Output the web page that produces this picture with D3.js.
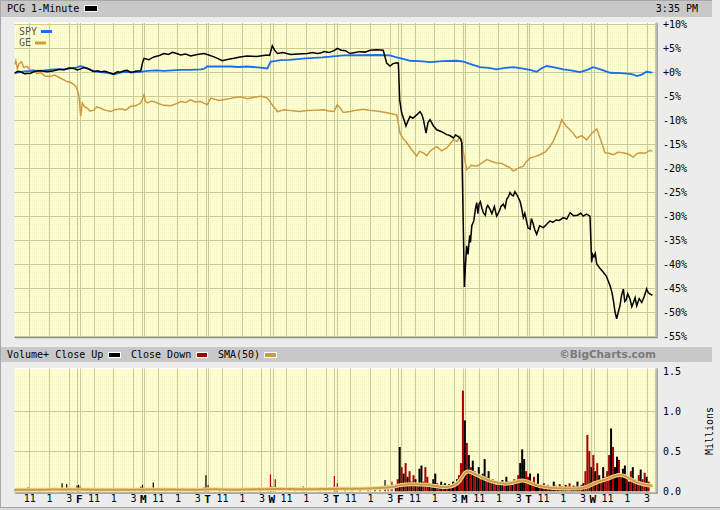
<!DOCTYPE html>
<html><head><meta charset="utf-8">
<script src="https://cdn.jsdelivr.net/npm/d3@7"></script>
<style>
html,body{margin:0;padding:0;background:#ececec;}
svg{display:block;}
text{font-family:"DejaVu Sans Mono",monospace;font-size:10px;fill:#000;}
</style></head><body>
<svg id="c" width="720" height="510"></svg>
<script>
// ---------- DATA ----------
// time axis: trading minutes since the first 9:30 open (390 minutes per session, 10 sessions)
const dayLabels = ["", "F", "M", "T", "W", "T", "F", "M", "T", "W"];
const hourTickMinutes = [90, 210, 330];
const hourLabels = ["11", "1", "3"];
const pctTicks = [10, 5, 0, -5, -10, -15, -20, -25, -30, -35, -40, -45, -50, -55];
const volTicks = [0, 0.5, 1.0, 1.5];

// [minute, % change]
const pcg = [[0,-0.2],[20,0.2],[38,0.1],[60,-0.3],[98,-0.2],[125,0.2],[159,0.3],[200,0.1],[240,0.3],[270,0.6],[301,0.5],[330,0.9],[361,0.8],[380,0.5],[402,0.7],[420,1.0],[442,0.8],[460,0.5],[483,0.1],[505,0.3],[524,0.1],[550,0.2],[584,-0.2],[600,-0.4],[625,0.1],[645,0.0],[665,0.3],[685,0.4],[706,-0.1],[735,0.2],[767,0.3],[777,1.9],[787,2.9],[815,2.6],[847,3.2],[880,3.5],[908,3.9],[935,3.7],[959,4.15],[985,3.9],[1010,3.6],[1040,3.8],[1070,3.4],[1110,3.7],[1151,3.9],[1180,3.6],[1212,3.2],[1240,2.8],[1262,2.4],[1300,2.7],[1333,2.9],[1370,3.2],[1414,3.4],[1470,3.3],[1536,3.6],[1550,3.5],[1566,5.5],[1580,4.6],[1597,3.9],[1630,4.1],[1678,3.7],[1720,3.8],[1779,3.9],[1810,4.1],[1839,3.9],[1860,4.0],[1880,4.3],[1910,4.1],[1941,4.5],[1961,5.0],[1985,4.6],[2010,4.5],[2038,3.9],[2070,4.1],[2099,4.3],[2130,4.2],[2160,4.6],[2200,4.7],[2240,4.6],[2261,1.9],[2281,1.3],[2300,1.8],[2322,2.0],[2332,1.9],[2340,-5.8],[2352,-8.5],[2365,-9.8],[2378,-11.2],[2390,-10.2],[2403,-9.2],[2420,-9.6],[2443,-8.9],[2463,-8.2],[2475,-8.8],[2484,-9.9],[2500,-12.7],[2512,-10.5],[2524,-9.9],[2545,-11.2],[2565,-12.0],[2595,-12.4],[2626,-13.0],[2645,-13.2],[2666,-13.7],[2680,-13.1],[2696,-13.4],[2710,-13.9],[2717,-14.7],[2733,-44.8],[2740,-40.0],[2747,-36.2],[2755,-38.0],[2765,-34.0],[2770,-35.5],[2778,-32.0],[2790,-31.0],[2800,-28.5],[2808,-27.2],[2815,-29.5],[2822,-27.5],[2830,-27.0],[2840,-28.4],[2848,-29.3],[2860,-29.8],[2868,-28.2],[2875,-27.8],[2889,-28.6],[2900,-29.5],[2915,-28.0],[2929,-30.0],[2945,-29.0],[2955,-28.0],[2969,-27.5],[2980,-28.3],[2990,-26.5],[3000,-26.0],[3010,-25.1],[3020,-25.6],[3030,-25.8],[3040,-24.9],[3051,-25.5],[3071,-26.9],[3080,-28.2],[3091,-30.3],[3100,-29.4],[3110,-31.0],[3120,-32.5],[3132,-32.7],[3140,-30.5],[3150,-31.5],[3160,-32.8],[3172,-33.8],[3190,-32.0],[3213,-32.4],[3230,-31.8],[3253,-31.0],[3270,-31.3],[3290,-30.8],[3310,-30.9],[3334,-30.3],[3355,-30.6],[3375,-29.3],[3395,-29.9],[3420,-29.8],[3440,-29.4],[3455,-30.0],[3475,-29.6],[3496,-30.0],[3506,-39.6],[3512,-38.0],[3520,-38.5],[3528,-37.8],[3537,-40.0],[3555,-40.8],[3577,-41.7],[3595,-42.5],[3618,-44.5],[3630,-46.0],[3640,-48.0],[3648,-50.0],[3658,-51.4],[3668,-50.0],[3678,-48.7],[3688,-46.5],[3699,-45.2],[3707,-47.8],[3715,-47.5],[3725,-46.2],[3739,-47.3],[3750,-48.9],[3760,-48.0],[3770,-47.0],[3780,-48.7],[3795,-47.2],[3810,-48.0],[3825,-46.8],[3840,-45.2],[3850,-46.0],[3860,-46.2],[3875,-46.5]];

const spy = [[0,-0.2],[60,0.2],[118,0.3],[180,0.4],[240,0.6],[301,0.6],[380,1.0],[402,1.3],[420,1.1],[442,0.8],[470,0.4],[503,0.1],[535,0.0],[564,-0.1],[590,-0.3],[604,-0.5],[630,-0.2],[665,0.1],[720,0.0],[767,0.1],[807,0.3],[860,0.4],[908,0.3],[960,0.4],[1010,0.5],[1070,0.5],[1131,0.6],[1150,0.7],[1171,1.2],[1240,1.2],[1313,1.2],[1360,1.1],[1414,1.2],[1480,1.0],[1536,0.8],[1556,2.2],[1580,2.3],[1617,2.55],[1670,2.6],[1718,2.75],[1770,2.9],[1819,3.0],[1870,3.1],[1921,3.25],[2000,3.5],[2100,3.55],[2220,3.6],[2280,3.5],[2322,3.1],[2360,2.8],[2403,2.4],[2460,2.3],[2524,2.1],[2600,2.3],[2686,2.4],[2727,2.2],[2780,1.6],[2828,1.05],[2880,0.9],[2929,0.6],[2980,0.9],[3030,1.05],[3080,0.8],[3132,0.5],[3172,0.1],[3200,0.8],[3233,1.3],[3280,1.0],[3334,0.6],[3380,0.4],[3435,0.05],[3480,0.5],[3516,1.05],[3560,0.6],[3618,-0.1],[3680,-0.2],[3739,-0.35],[3760,-0.5],[3780,-0.8],[3810,-0.5],[3840,0.1],[3875,-0.1]];

const ge = [[0,1.6],[8,2.4],[17,0.8],[28,1.8],[43,2.2],[55,1.0],[78,1.2],[95,0.4],[118,0.5],[135,-0.3],[159,-0.1],[185,-0.8],[216,-0.9],[245,-0.6],[277,-1.2],[300,-1.6],[317,-1.95],[340,-2.1],[361,-2.6],[372,-2.9],[382,-3.7],[392,-5.1],[402,-9.2],[412,-6.4],[425,-7.2],[442,-7.5],[460,-8.1],[483,-7.9],[500,-7.2],[524,-7.5],[550,-7.9],[584,-8.2],[610,-7.8],[645,-7.6],[675,-7.9],[706,-7.1],[735,-7.0],[767,-6.4],[787,-4.7],[795,-6.0],[807,-6.4],[835,-6.0],[868,-6.4],[905,-6.9],[949,-7.0],[980,-6.6],[1010,-6.1],[1040,-6.3],[1070,-5.75],[1100,-6.2],[1131,-6.1],[1171,-6.8],[1192,-5.4],[1240,-5.9],[1293,-5.6],[1330,-5.3],[1374,-5.1],[1415,-5.5],[1455,-5.2],[1500,-5.0],[1536,-5.4],[1566,-6.8],[1597,-8.2],[1640,-7.8],[1678,-8.0],[1730,-8.2],[1779,-8.0],[1830,-7.9],[1880,-7.8],[1910,-8.1],[1941,-8.2],[1961,-6.8],[1980,-7.5],[1997,-8.4],[2038,-8.2],[2080,-7.9],[2119,-7.7],[2170,-8.0],[2220,-8.2],[2270,-8.5],[2322,-8.9],[2342,-12.7],[2360,-13.8],[2383,-14.7],[2410,-16.0],[2443,-17.5],[2460,-16.5],[2484,-16.8],[2505,-17.4],[2524,-16.5],[2545,-15.9],[2565,-15.5],[2595,-16.4],[2626,-15.8],[2645,-15.0],[2666,-14.1],[2690,-14.4],[2706,-13.4],[2717,-14.2],[2727,-16.8],[2747,-20.3],[2775,-19.4],[2808,-19.6],[2840,-18.9],[2869,-18.2],[2900,-18.6],[2929,-18.9],[2960,-19.0],[2990,-19.6],[3010,-19.9],[3030,-20.6],[3060,-20.0],[3091,-19.6],[3110,-18.6],[3132,-17.9],[3160,-17.6],[3192,-17.2],[3225,-16.6],[3253,-15.5],[3275,-14.2],[3294,-12.7],[3310,-11.4],[3324,-9.9],[3350,-11.2],[3375,-12.0],[3395,-12.8],[3415,-13.7],[3445,-13.2],[3476,-14.1],[3505,-12.8],[3537,-11.8],[3557,-13.7],[3587,-16.8],[3610,-16.9],[3638,-17.2],[3665,-16.7],[3699,-16.8],[3730,-17.1],[3759,-17.7],[3780,-17.0],[3800,-16.8],[3830,-16.9],[3860,-16.3],[3875,-16.5]];

// volume, millions: [minute, volume, close up(1)/down(0)]
const volEarly = [[3,0.03,1],[33,0.02,0],[82,0.05,0],[155,0.02,1],[216,0.015,0],[289,0.10,1],[317,0.09,1],[349,0.03,0],[380,0.07,1],[389,0.08,1],[398,0.06,0],[459,0.02,1],[519,0.025,0],[611,0.02,1],[768,0.06,1],[778,0.08,1],[787,0.04,0],[843,0.11,1],[914,0.02,0],[1005,0.02,1],[1097,0.015,0],[1151,0.05,0],[1163,0.20,1],[1176,0.08,0],[1248,0.02,1],[1370,0.02,0],[1491,0.03,1],[1540,0.04,1],[1555,0.21,0],[1564,0.06,1],[1584,0.15,0],[1631,0.05,0],[1704,0.02,1],[1754,0.06,0],[1856,0.02,1],[1943,0.19,0],[1953,0.05,1],[1961,0.10,0],[2008,0.03,1],[2050,0.05,0],[2099,0.03,1],[2148,0.04,0],[2190,0.05,1],[2220,0.06,0],[2251,0.14,1],[2269,0.08,0],[2293,0.12,0]];
// later sessions: 12-minute buckets starting at minute 2316
const volLateStart = 2316;
const volLateStep = 12;
const volLate = [0.08,0.15,0.55,0.30,0.22,0.35,0.18,0.25,0.12,0.20,0.15,0.10,0.28,0.32,0.12,0.30,0.18,0.10,0.08,0.15,0.22,0.10,0.07,0.12,0.08,0.10,0.06,0.09,0.07,0.12,0.10,0.15,0.20,0.35,1.25,0.88,0.60,0.45,0.30,0.38,0.25,0.20,0.30,0.15,0.22,0.40,0.18,0.25,0.12,0.15,0.10,0.08,0.12,0.10,0.14,0.09,0.18,0.12,0.10,0.08,0.15,0.12,0.20,0.35,0.52,0.40,0.25,0.18,0.22,0.12,0.18,0.10,0.22,0.08,0.06,0.10,0.05,0.08,0.06,0.05,0.12,0.07,0.05,0.09,0.06,0.05,0.08,0.06,0.10,0.05,0.07,0.06,0.12,0.05,0.08,0.10,0.25,0.70,0.50,0.30,0.45,0.25,0.35,0.20,0.15,0.30,0.18,0.25,0.45,0.78,0.55,0.30,0.43,0.39,0.20,0.28,0.32,0.18,0.12,0.25,0.30,0.15,0.10,0.20,0.27,0.15,0.23,0.18,0.12];
const volLateUp = [1,0,1,0,1,0,1,0,1,0,1,0,1,1,0,0,0,1,0,1,1,0,0,1,0,1,0,1,0,1,0,1,0,0,0,1,0,1,0,1,0,1,1,0,1,1,0,1,0,1,0,1,0,1,1,0,1,1,0,1,0,1,0,1,1,1,0,0,1,0,0,1,1,0,1,0,1,0,1,0,1,0,1,0,1,0,1,0,0,1,1,0,1,0,0,1,0,0,0,1,0,1,0,1,0,1,0,0,0,1,0,1,1,0,0,1,1,0,1,0,1,0,1,0,1,0,0,1,0];
// SMA(50) of volume: [minute, millions]
const sma = [[3,0.02],[216,0.02],[398,0.025],[641,0.015],[823,0.025],[1127,0.015],[1188,0.03],[1370,0.015],[1583,0.035],[1735,0.02],[1959,0.035],[2099,0.03],[2220,0.04],[2299,0.05],[2342,0.08],[2403,0.09],[2506,0.085],[2585,0.05],[2664,0.055],[2706,0.12],[2737,0.25],[2767,0.25],[2828,0.18],[2907,0.11],[3010,0.08],[3089,0.16],[3150,0.08],[3235,0.045],[3356,0.03],[3478,0.04],[3514,0.10],[3599,0.15],[3678,0.22],[3721,0.18],[3782,0.10],[3860,0.07],[3875,0.07]];

// ---------- CHART ----------
const svg = d3.select("#c");
const W = 720, H = 510;
const X0 = 14.5, X1 = 656.5;
const x = d3.scaleLinear().domain([0, 3900]).range([X0, X1]);
const y = d3.scaleLinear().domain([-55, 10]).range([336, 24.3]);
const yv = d3.scaleLinear().domain([0, 1.5]).range([491.3, 370.5]);
const px = v => Math.round(v) + 0.5;

const defs = svg.append("defs");
const pat = defs.append("pattern").attr("id","tex").attr("width",2).attr("height",2).attr("patternUnits","userSpaceOnUse");
pat.append("rect").attr("width",2).attr("height",2).attr("fill","#ffffd4");
pat.append("rect").attr("width",1).attr("height",1).attr("fill","#f4f4c2");
defs.append("clipPath").attr("id","clipMain").append("rect").attr("x",X0).attr("y",22.5).attr("width",X1-X0).attr("height",314.5);
defs.append("clipPath").attr("id","clipVol").append("rect").attr("x",X0).attr("y",368).attr("width",X1-X0).attr("height",124);

// page frame
svg.append("rect").attr("x",0).attr("y",0).attr("width",W).attr("height",H).attr("fill","#ececec");
svg.append("line").attr("x1",0.5).attr("x2",0.5).attr("y1",0).attr("y2",508).attr("stroke","#a8a8a8").attr("stroke-width",1);
svg.append("line").attr("x1",0).attr("x2",W).attr("y1",507.5).attr("y2",507.5).attr("stroke","#a8a8a8");
svg.append("rect").attr("x",0).attr("y",508).attr("width",W).attr("height",2).attr("fill","#d8d8d8");

// header bars
svg.append("rect").attr("x",1).attr("y",0).attr("width",711).attr("height",17).attr("fill","#c8c8c8");
svg.append("line").attr("x1",1).attr("x2",712).attr("y1",0.5).attr("y2",0.5).attr("stroke","#a8a8a8");
svg.append("rect").attr("x",1).attr("y",347).attr("width",711).attr("height",15).attr("fill","#c8c8c8");

// header texts
svg.append("text").attr("x",7).attr("y",8.5).attr("dominant-baseline","middle").text("PCG 1-Minute");
svg.append("rect").attr("x",84.5).attr("y",5.5).attr("width",13).attr("height",6).attr("fill","#000").attr("stroke","#fff");
svg.append("text").attr("x",698).attr("y",8.5).attr("text-anchor","end").attr("dominant-baseline","middle").text("3:35 PM");

svg.append("text").attr("x",7).attr("y",355).attr("dominant-baseline","middle").text("Volume+ Close Up");
svg.append("rect").attr("x",108.5).attr("y",352.5).attr("width",12).attr("height",5).attr("fill","#000").attr("stroke","#fff");
svg.append("text").attr("x",131).attr("y",355).attr("dominant-baseline","middle").text("Close Down");
svg.append("rect").attr("x",196.5).attr("y",352.5).attr("width",11).attr("height",5).attr("fill","#a00000").attr("stroke","#fff");
svg.append("text").attr("x",218).attr("y",355).attr("dominant-baseline","middle").text("SMA(50)");
svg.append("rect").attr("x",264.5).attr("y",352.5).attr("width",12).attr("height",5).attr("fill","#cc9a40").attr("stroke","#fff");
svg.append("text").attr("x",656).attr("y",355).attr("text-anchor","end").attr("dominant-baseline","middle")
  .style("font-family","'DejaVu Sans',sans-serif").style("font-weight","bold").style("font-size","10.5px").style("fill","#7a7a7a").text("\u00A9BigCharts.com");

// panels
function panel(y0, y1) {
  svg.append("rect").attr("x",X0+1.5).attr("y",y0+1.5).attr("width",X1-X0).attr("height",y1-y0).attr("fill","#c4c4c4");
  svg.append("rect").attr("x",X0).attr("y",y0).attr("width",X1-X0).attr("height",y1-y0).attr("fill","url(#tex)");
  svg.append("line").attr("x1",X0).attr("x2",X1).attr("y1",y0+0.5).attr("y2",y0+0.5).attr("stroke","#ffffff");
  svg.append("line").attr("x1",X1+0.5).attr("x2",X1+0.5).attr("y1",y0).attr("y2",y1+1).attr("stroke","#8c8c8c");
  svg.append("line").attr("x1",X0).attr("x2",X1+1).attr("y1",y1+0.5).attr("y2",y1+0.5).attr("stroke","#8c8c8c");
}
panel(22.5, 337);
panel(368, 492.5);

const gridColor = "#cbcb96";
function vgrid(y0, y1) {
  const g = svg.append("g");
  for (let d = 0; d < 10; d++) {
    const b = x(d * 390);
    if (d > 0) {
      g.append("line").attr("x1",px(b-1.3)).attr("x2",px(b-1.3)).attr("y1",y0).attr("y2",y1).attr("stroke",gridColor);
      g.append("line").attr("x1",px(b+1.2)).attr("x2",px(b+1.2)).attr("y1",y0).attr("y2",y1).attr("stroke",gridColor);
    }
    hourTickMinutes.forEach(m => {
      const xx = px(x(d * 390 + m));
      g.append("line").attr("x1",xx).attr("x2",xx).attr("y1",y0).attr("y2",y1).attr("stroke",gridColor);
    });
  }
  g.append("line").attr("x1",px(X1-1.5)).attr("x2",px(X1-1.5)).attr("y1",y0).attr("y2",y1).attr("stroke",gridColor);
}
vgrid(23, 337);
vgrid(368.5, 492.5);

// horizontal grid
pctTicks.forEach(p => {
  svg.append("line").attr("x1",X0).attr("x2",X1).attr("y1",px(y(p))).attr("y2",px(y(p))).attr("stroke",gridColor);
});
[0.5, 1.0].forEach(v => {
  svg.append("line").attr("x1",X0).attr("x2",X1).attr("y1",px(yv(v))).attr("y2",px(yv(v))).attr("stroke",gridColor);
});

// right axes
const ax = svg.append("g").attr("transform",`translate(663,0)`)
  .call(d3.axisRight(y).tickValues(pctTicks).tickSize(0).tickPadding(0).tickFormat(d => (d >= 0 ? "+" : "") + d + "%"));
ax.select(".domain").remove();
ax.selectAll("text").attr("font-family",null).attr("font-size",null).attr("fill","#000").attr("dy","0.35em");

const axv = svg.append("g").attr("transform",`translate(663,0)`)
  .call(d3.axisRight(yv).tickValues(volTicks).tickSize(0).tickPadding(0).tickFormat(d3.format(".1f")));
axv.select(".domain").remove();
axv.selectAll("text").attr("font-family",null).attr("font-size",null).attr("fill","#000").attr("dy","0.35em");

svg.append("text").attr("transform","translate(710,431) rotate(-90)").attr("text-anchor","middle").attr("dominant-baseline","middle").text("Millions");

// bottom axis
const tickVals = [], tickText = new Map();
for (let d = 0; d < 10; d++) {
  if (d > 0) { tickVals.push(d * 390); tickText.set(d * 390, dayLabels[d]); }
  hourTickMinutes.forEach((m, i) => { tickVals.push(d * 390 + m); tickText.set(d * 390 + m, hourLabels[i]); });
}
const bx = svg.append("g").attr("transform","translate(0,495)")
  .call(d3.axisBottom(x).tickValues(tickVals).tickSize(0).tickPadding(0).tickFormat(v => tickText.get(v)));
bx.select(".domain").remove();
bx.selectAll("text").attr("font-family",null).attr("font-size",null).attr("fill","#000").attr("dy","0.71em")
  .style("font-weight", v => (v % 390 === 0 ? "bold" : "normal"))
  .style("font-size", v => (v % 390 === 0 ? "11px" : "10px"));

// legend in plot
svg.append("text").attr("x",19).attr("y",31.5).attr("dominant-baseline","middle").style("fill","#555").text("SPY");
svg.append("rect").attr("x",41).attr("y",30).attr("width",11).attr("height",3).attr("fill","#1a6cf0");
svg.append("text").attr("x",19).attr("y",43).attr("dominant-baseline","middle").style("fill","#555").text("GE");
svg.append("rect").attr("x",35).attr("y",41.5).attr("width",11).attr("height",3).attr("fill","#cd9b40");

// price lines
const line = d3.line().x(d => x(d[0])).y(d => y(d[1]));
const gm = svg.append("g").attr("clip-path","url(#clipMain)");
gm.append("path").datum(ge).attr("d",line).attr("fill","none").attr("stroke","#cd9b40").attr("stroke-width",1.5);
gm.append("path").datum(spy).attr("d",line).attr("fill","none").attr("stroke","#1a6cf0").attr("stroke-width",1.8);
gm.append("path").datum(pcg).attr("d",line).attr("fill","none").attr("stroke","#000").attr("stroke-width",1.5);

// volume
const gv = svg.append("g").attr("clip-path","url(#clipVol)");
const bars = volEarly.map(d => ({m: d[0], v: d[1], up: d[2], w: 1.2}))
  .concat(volLate.map((v, i) => ({m: volLateStart + i * volLateStep, v: v, up: volLateUp[i], w: 2})));
gv.selectAll("rect.vb").data(bars).enter().append("rect").attr("class","vb")
  .attr("x", d => x(d.m) - d.w / 2).attr("width", d => d.w)
  .attr("y", d => yv(d.v)).attr("height", d => yv(0) - yv(d.v))
  .attr("fill", d => d.up ? "#000" : "#a80000");
const sl = d3.line().x(d => x(d[0])).y(d => yv(d[1])).curve(d3.curveBasis);
gv.append("path").datum(sma).attr("d",sl).attr("fill","none").attr("stroke","#f2d898").attr("stroke-width",4);
gv.append("path").datum(sma).attr("d",sl).attr("fill","none").attr("stroke","#cc9a40").attr("stroke-width",2);
</script>
</body></html>
